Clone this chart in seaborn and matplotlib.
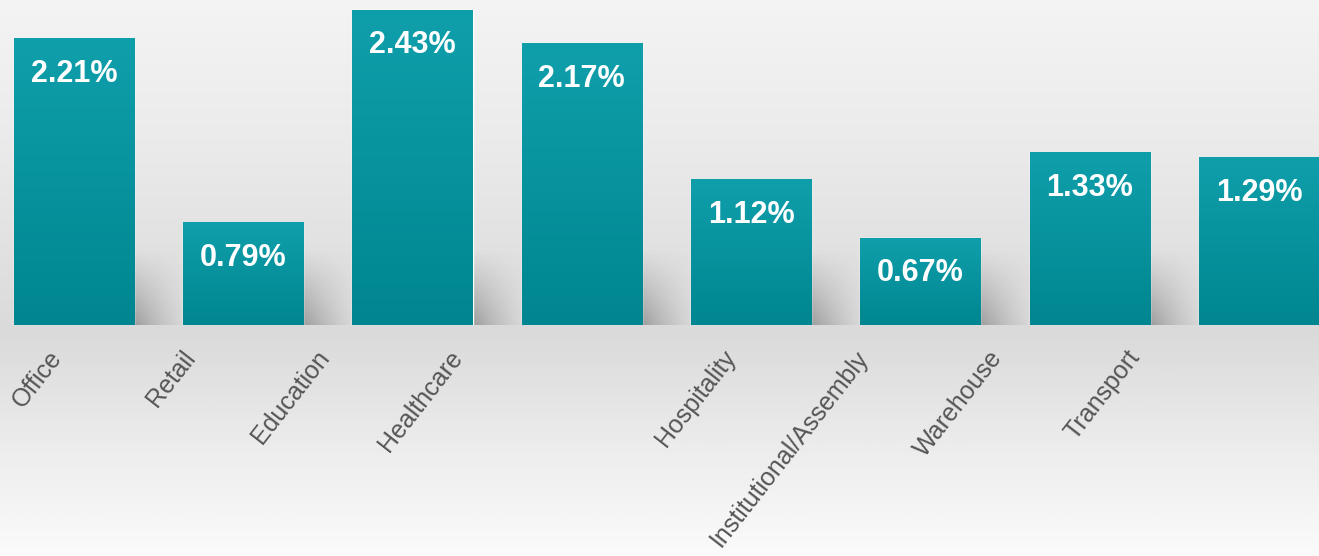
import numpy as np
import matplotlib
matplotlib.use("Agg")
import matplotlib.pyplot as plt
import matplotlib.transforms as mtrans
from matplotlib.colors import LinearSegmentedColormap, to_rgb
import seaborn as sns
import pandas as pd

# ---------------- data ----------------
categories = ["Office", "Retail", "Education", "Healthcare", "Hospitality",
              "Institutional/Assembly", "Warehouse", "Transport"]
values = [2.21, 0.79, 2.43, 2.17, 1.12, 0.67, 1.33, 1.29]
value_labels = ["2.21%", "0.79%", "2.43%", "2.17%", "1.12%", "0.67%", "1.33%", "1.29%"]

# ---------------- layout / style ----------------
W, H = 1319, 556
DPI = 100
BASE_Y = 325            # pixel row of the bar baseline
PX_PER_UNIT = 129.6
LABEL_SHIFT_PX = [-7, -43, -78, -115, -10, -47, -83, -114]
FONT = ["Liberation Sans", "DejaVu Sans"]

sns.set_theme(style="white")
plt.rcParams["font.family"] = FONT

fig = plt.figure(figsize=(W / DPI, H / DPI), dpi=DPI)

# background gradient
bg = fig.add_axes([0, 0, 1, 1])
bg.set_axis_off()
bg_cmap = LinearSegmentedColormap.from_list(
    "bg", [(0.0, "#f4f4f4"), (0.25, "#ebebeb"), (0.6, "#dadada"),
           (0.8, "#ececec"), (1.0, "#fbfbfb")])
grad = np.linspace(0, 1, 512).reshape(-1, 1)
bg.imshow(grad, aspect="auto", cmap=bg_cmap, extent=[0, 1, 0, 1], origin="upper")
bg.set_xlim(0, 1)
bg.set_ylim(0, 1)

ax = fig.add_axes([0, (H - BASE_Y) / H, 1, BASE_Y / H])
ax.patch.set_alpha(0)

df = pd.DataFrame({"category": categories, "value": values})
sns.barplot(data=df, x="category", y="value", ax=ax, width=0.71,
            color="#0a95a0", saturation=1, zorder=3)
ax.set_xlim(-0.437, 7.355)
ax.set_ylim(0, BASE_Y / PX_PER_UNIT)
ax.set_axis_off()

# gradient fill for bars and soft shadows
bar_cmap = LinearSegmentedColormap.from_list("bar", ["#008690", "#0f9fab"])
shadow_rgb = to_rgb("#4a4a4a")
for p in ax.patches:
    x0, y0 = p.get_x(), p.get_y()
    w, h = p.get_width(), p.get_height()
    g = np.linspace(0, 1, 256).reshape(-1, 1)
    ax.imshow(g, cmap=bar_cmap, aspect="auto", origin="lower",
              extent=[x0, x0 + w, y0, y0 + h], zorder=4)
    # shadow to the right of the bar
    nx, ny = 80, 80
    u = np.linspace(0, 1, nx)[None, :]
    v = np.linspace(0, 1, ny)[:, None]
    alpha = 0.42 * np.clip(1 - u, 0, 1) ** 1.3 * np.clip(1 - v, 0, 1) ** 1.1
    rgba = np.zeros((ny, nx, 4))
    rgba[..., :3] = shadow_rgb
    rgba[..., 3] = alpha
    sh_h = min(0.6, h)
    ax.imshow(rgba, aspect="auto", origin="lower",
              extent=[x0 + w, x0 + w + 0.32, 0, sh_h], zorder=2)
ax.set_xlim(-0.437, 7.355)
ax.set_ylim(0, BASE_Y / PX_PER_UNIT)

# value labels inside bars
for i, (v, lbl) in enumerate(zip(values, value_labels)):
    ax.annotate(lbl, (i, v), xytext=(0, -35 * 72 / DPI), textcoords="offset points",
                ha="center", va="center", color="white", fontweight="bold",
                fontsize=22, zorder=6)

# category labels (rotated)
for i, (cat, dx) in enumerate(zip(categories, LABEL_SHIFT_PX)):
    tr = ax.get_xaxis_transform() + mtrans.ScaledTranslation(
        dx / DPI, -21 / DPI, fig.dpi_scale_trans)
    ax.text(i, 0, cat, transform=tr, rotation=52, ha="right", va="top",
            fontsize=18, color="#555555", clip_on=False)

fig.savefig("out.png", dpi=DPI)
